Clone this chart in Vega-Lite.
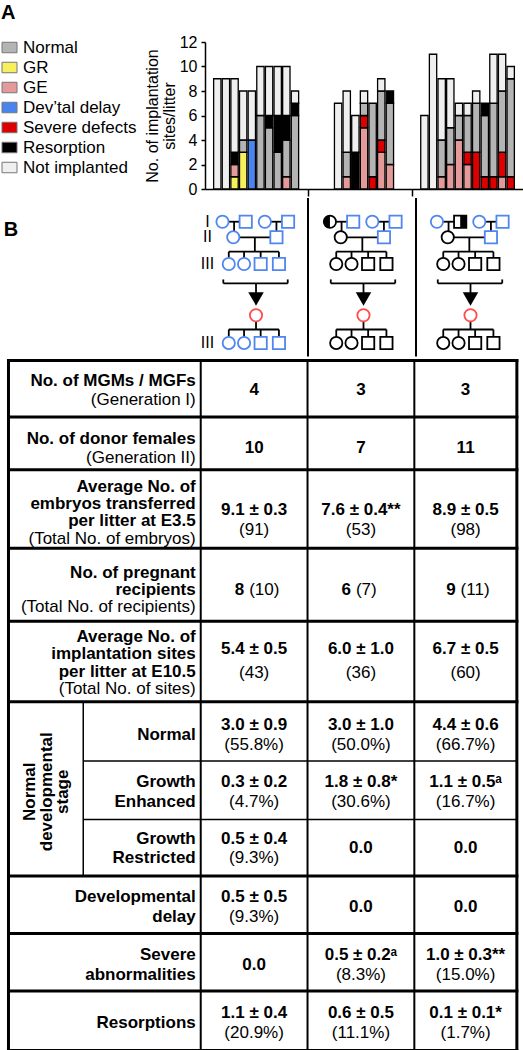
{
"$schema": "https://vega.github.io/schema/vega-lite/v6.json",
"padding": {"left": 1, "top": 3, "right": 0, "bottom": 0},
"spacing": 0,
"title": {"text": "A", "anchor": "start", "frame": "bounds", "fontSize": 20, "fontWeight": "bold", "font": "Liberation Sans", "color": "black", "offset": 11},
"config": {"view": {"stroke": null}, "concat": {"spacing": 0}, "font": "Liberation Sans", "text": {"font": "Liberation Sans", "color": "black"}},
"datasets": {
"litters": [
{"litter":"F1-1","outcome":"Not implanted","lo":0,"hi":9},
{"litter":"F1-2","outcome":"Not implanted","lo":0,"hi":9},
{"litter":"F1-3","outcome":"GR","lo":0,"hi":1},{"litter":"F1-3","outcome":"GE","lo":1,"hi":2},{"litter":"F1-3","outcome":"Resorption","lo":2,"hi":3},{"litter":"F1-3","outcome":"Not implanted","lo":3,"hi":9},
{"litter":"F1-4","outcome":"GR","lo":0,"hi":3},{"litter":"F1-4","outcome":"Normal","lo":3,"hi":4},{"litter":"F1-4","outcome":"Not implanted","lo":4,"hi":8},
{"litter":"F1-5","outcome":"Dev’tal delay","lo":0,"hi":4},{"litter":"F1-5","outcome":"Not implanted","lo":4,"hi":8},
{"litter":"F1-6","outcome":"Normal","lo":0,"hi":6},{"litter":"F1-6","outcome":"Not implanted","lo":6,"hi":10},
{"litter":"F1-7","outcome":"Normal","lo":0,"hi":5},{"litter":"F1-7","outcome":"Resorption","lo":5,"hi":6},{"litter":"F1-7","outcome":"Not implanted","lo":6,"hi":10},
{"litter":"F1-8","outcome":"Normal","lo":0,"hi":3},{"litter":"F1-8","outcome":"Resorption","lo":3,"hi":6},{"litter":"F1-8","outcome":"Not implanted","lo":6,"hi":10},
{"litter":"F1-9","outcome":"GE","lo":0,"hi":1},{"litter":"F1-9","outcome":"Normal","lo":1,"hi":4},{"litter":"F1-9","outcome":"Resorption","lo":4,"hi":6},{"litter":"F1-9","outcome":"Not implanted","lo":6,"hi":10},
{"litter":"F1-10","outcome":"Normal","lo":0,"hi":6},{"litter":"F1-10","outcome":"Resorption","lo":6,"hi":7},{"litter":"F1-10","outcome":"Not implanted","lo":7,"hi":8},
{"litter":"F2-1","outcome":"Not implanted","lo":0,"hi":7},
{"litter":"F2-2","outcome":"GE","lo":0,"hi":1},{"litter":"F2-2","outcome":"Normal","lo":1,"hi":3},{"litter":"F2-2","outcome":"Not implanted","lo":3,"hi":8},
{"litter":"F2-3","outcome":"Resorption","lo":0,"hi":3},{"litter":"F2-3","outcome":"Not implanted","lo":3,"hi":6},
{"litter":"F2-4","outcome":"GE","lo":0,"hi":5},{"litter":"F2-4","outcome":"Severe defects","lo":5,"hi":6},{"litter":"F2-4","outcome":"Normal","lo":6,"hi":7},{"litter":"F2-4","outcome":"Not implanted","lo":7,"hi":8},
{"litter":"F2-5","outcome":"Severe defects","lo":0,"hi":1},{"litter":"F2-5","outcome":"Normal","lo":1,"hi":7},
{"litter":"F2-6","outcome":"GE","lo":0,"hi":3},{"litter":"F2-6","outcome":"Severe defects","lo":3,"hi":4},{"litter":"F2-6","outcome":"Normal","lo":4,"hi":8},{"litter":"F2-6","outcome":"Not implanted","lo":8,"hi":9},
{"litter":"F2-7","outcome":"GE","lo":0,"hi":2},{"litter":"F2-7","outcome":"Normal","lo":2,"hi":7},{"litter":"F2-7","outcome":"Resorption","lo":7,"hi":8},
{"litter":"F3-1","outcome":"Not implanted","lo":0,"hi":6},
{"litter":"F3-2","outcome":"Not implanted","lo":0,"hi":11},
{"litter":"F3-3","outcome":"GE","lo":0,"hi":1},{"litter":"F3-3","outcome":"Normal","lo":1,"hi":4},{"litter":"F3-3","outcome":"Not implanted","lo":4,"hi":9},
{"litter":"F3-4","outcome":"GE","lo":0,"hi":2},{"litter":"F3-4","outcome":"Normal","lo":2,"hi":5},{"litter":"F3-4","outcome":"Not implanted","lo":5,"hi":9},
{"litter":"F3-5","outcome":"GE","lo":0,"hi":4},{"litter":"F3-5","outcome":"Normal","lo":4,"hi":6},{"litter":"F3-5","outcome":"Not implanted","lo":6,"hi":7},
{"litter":"F3-6","outcome":"GE","lo":0,"hi":2},{"litter":"F3-6","outcome":"Severe defects","lo":2,"hi":3},{"litter":"F3-6","outcome":"Normal","lo":3,"hi":6},{"litter":"F3-6","outcome":"Not implanted","lo":6,"hi":7},
{"litter":"F3-7","outcome":"Severe defects","lo":0,"hi":3},{"litter":"F3-7","outcome":"Normal","lo":3,"hi":7},{"litter":"F3-7","outcome":"Not implanted","lo":7,"hi":8},
{"litter":"F3-8","outcome":"Severe defects","lo":0,"hi":1},{"litter":"F3-8","outcome":"Normal","lo":1,"hi":6},{"litter":"F3-8","outcome":"Resorption","lo":6,"hi":7},
{"litter":"F3-9","outcome":"Severe defects","lo":0,"hi":1},{"litter":"F3-9","outcome":"Normal","lo":1,"hi":7},{"litter":"F3-9","outcome":"Not implanted","lo":7,"hi":11},
{"litter":"F3-10","outcome":"GE","lo":0,"hi":1},{"litter":"F3-10","outcome":"Severe defects","lo":1,"hi":3},{"litter":"F3-10","outcome":"Normal","lo":3,"hi":8},{"litter":"F3-10","outcome":"Not implanted","lo":8,"hi":11},
{"litter":"F3-11","outcome":"Severe defects","lo":0,"hi":1},{"litter":"F3-11","outcome":"Normal","lo":1,"hi":9},{"litter":"F3-11","outcome":"Not implanted","lo":9,"hi":10}
],
"people": [
{"fam":"1","gen":"I","pos":-1.9,"lvl":0,"sex":"F","status":"wt"},
{"fam":"1","gen":"I","pos":-0.5,"lvl":0,"sex":"M","status":"wt"},
{"fam":"1","gen":"I","pos":0.65,"lvl":0,"sex":"F","status":"wt"},
{"fam":"1","gen":"I","pos":2.05,"lvl":0,"sex":"M","status":"wt"},
{"fam":"1","gen":"II","pos":-1.25,"lvl":1,"sex":"F","status":"wt"},
{"fam":"1","gen":"II","pos":1.35,"lvl":1,"sex":"M","status":"wt"},
{"fam":"1","gen":"III","pos":-1.52,"lvl":2.71,"sex":"F","status":"wt"},
{"fam":"1","gen":"III","pos":-0.6,"lvl":2.71,"sex":"F","status":"wt"},
{"fam":"1","gen":"III","pos":0.4,"lvl":2.71,"sex":"M","status":"wt"},
{"fam":"1","gen":"III","pos":1.5,"lvl":2.71,"sex":"M","status":"wt"},
{"fam":"1","gen":"recipient","pos":0.12,"lvl":6.0,"sex":"F","status":"recipient"},
{"fam":"1","gen":"III offspring","pos":-1.52,"lvl":7.77,"sex":"F","status":"wt"},
{"fam":"1","gen":"III offspring","pos":-0.6,"lvl":7.77,"sex":"F","status":"wt"},
{"fam":"1","gen":"III offspring","pos":0.4,"lvl":7.77,"sex":"M","status":"wt"},
{"fam":"1","gen":"III offspring","pos":1.5,"lvl":7.77,"sex":"M","status":"wt"},
{"fam":"2","gen":"I","pos":-1.9,"lvl":0,"sex":"F","status":"carrier"},
{"fam":"2","gen":"I","pos":-0.5,"lvl":0,"sex":"M","status":"wt"},
{"fam":"2","gen":"I","pos":0.65,"lvl":0,"sex":"F","status":"wt"},
{"fam":"2","gen":"I","pos":2.05,"lvl":0,"sex":"M","status":"wt"},
{"fam":"2","gen":"II","pos":-1.25,"lvl":1,"sex":"F","status":"mut"},
{"fam":"2","gen":"II","pos":1.35,"lvl":1,"sex":"M","status":"wt"},
{"fam":"2","gen":"III","pos":-1.52,"lvl":2.71,"sex":"F","status":"mut"},
{"fam":"2","gen":"III","pos":-0.6,"lvl":2.71,"sex":"F","status":"mut"},
{"fam":"2","gen":"III","pos":0.4,"lvl":2.71,"sex":"M","status":"mut"},
{"fam":"2","gen":"III","pos":1.5,"lvl":2.71,"sex":"M","status":"mut"},
{"fam":"2","gen":"recipient","pos":0.12,"lvl":6.0,"sex":"F","status":"recipient"},
{"fam":"2","gen":"III offspring","pos":-1.52,"lvl":7.77,"sex":"F","status":"mut"},
{"fam":"2","gen":"III offspring","pos":-0.6,"lvl":7.77,"sex":"F","status":"mut"},
{"fam":"2","gen":"III offspring","pos":0.4,"lvl":7.77,"sex":"M","status":"mut"},
{"fam":"2","gen":"III offspring","pos":1.5,"lvl":7.77,"sex":"M","status":"mut"},
{"fam":"3","gen":"I","pos":-1.9,"lvl":0,"sex":"F","status":"wt"},
{"fam":"3","gen":"I","pos":-0.5,"lvl":0,"sex":"M","status":"carrier"},
{"fam":"3","gen":"I","pos":0.65,"lvl":0,"sex":"F","status":"wt"},
{"fam":"3","gen":"I","pos":2.05,"lvl":0,"sex":"M","status":"wt"},
{"fam":"3","gen":"II","pos":-1.25,"lvl":1,"sex":"F","status":"mut"},
{"fam":"3","gen":"II","pos":1.35,"lvl":1,"sex":"M","status":"wt"},
{"fam":"3","gen":"III","pos":-1.52,"lvl":2.71,"sex":"F","status":"mut"},
{"fam":"3","gen":"III","pos":-0.6,"lvl":2.71,"sex":"F","status":"mut"},
{"fam":"3","gen":"III","pos":0.4,"lvl":2.71,"sex":"M","status":"mut"},
{"fam":"3","gen":"III","pos":1.5,"lvl":2.71,"sex":"M","status":"mut"},
{"fam":"3","gen":"recipient","pos":0.12,"lvl":6.0,"sex":"F","status":"recipient"},
{"fam":"3","gen":"III offspring","pos":-1.52,"lvl":7.77,"sex":"F","status":"mut"},
{"fam":"3","gen":"III offspring","pos":-0.6,"lvl":7.77,"sex":"F","status":"mut"},
{"fam":"3","gen":"III offspring","pos":0.4,"lvl":7.77,"sex":"M","status":"mut"},
{"fam":"3","gen":"III offspring","pos":1.5,"lvl":7.77,"sex":"M","status":"mut"}
],
"pedlines": [
{"p1":-1.9,"p2":-0.5,"l1":0,"l2":0},
{"p1":-1.2,"p2":-1.2,"l1":0,"l2":1},
{"p1":0.65,"p2":2.05,"l1":0,"l2":0},
{"p1":1.35,"p2":1.35,"l1":0,"l2":1},
{"p1":-1.25,"p2":1.35,"l1":1,"l2":1},
{"p1":0.05,"p2":0.05,"l1":1,"l2":1.92},
{"p1":-1.52,"p2":1.5,"l1":1.92,"l2":1.92},
{"p1":-1.52,"p2":-1.52,"l1":1.92,"l2":2.71},
{"p1":-0.6,"p2":-0.6,"l1":1.92,"l2":2.71},
{"p1":0.4,"p2":0.4,"l1":1.92,"l2":2.71},
{"p1":1.5,"p2":1.5,"l1":1.92,"l2":2.71},
{"p1":-1.85,"p2":2.03,"l1":3.95,"l2":3.95},
{"p1":-1.85,"p2":-1.85,"l1":3.7,"l2":3.95},
{"p1":2.03,"p2":2.03,"l1":3.7,"l2":3.95},
{"p1":0.12,"p2":0.12,"l1":3.95,"l2":4.6},
{"p1":0.12,"p2":0.12,"l1":6.0,"l2":6.91},
{"p1":-1.52,"p2":1.5,"l1":6.91,"l2":6.91},
{"p1":-1.52,"p2":-1.52,"l1":6.91,"l2":7.77},
{"p1":-0.6,"p2":-0.6,"l1":6.91,"l2":7.77},
{"p1":0.4,"p2":0.4,"l1":6.91,"l2":7.77},
{"p1":1.5,"p2":1.5,"l1":6.91,"l2":7.77}
],
"gens": [{"gen":"I","lvl":0},{"gen":"II","lvl":1},{"gen":"III","lvl":2.71},{"gen":"III","lvl":7.77}],
"cells": [
{"ln":2.15,"c":9,"t":"No. of MGMs / MGFs","role":"name"},
{"ln":4.15,"c":9,"t":"(Generation I)","role":"note"},
{"ln":3.05,"c":11.5,"t":"4","role":"mean"},{"ln":3.05,"c":16.5,"t":"3","role":"mean"},{"ln":3.05,"c":21.4,"t":"3","role":"mean"},
{"ln":8.15,"c":9,"t":"No. of donor females","role":"name"},
{"ln":10.2,"c":9,"t":"(Generation II)","role":"note"},
{"ln":9.1,"c":11.5,"t":"10","role":"mean"},{"ln":9.1,"c":16.5,"t":"7","role":"mean"},{"ln":9.1,"c":21.4,"t":"11","role":"mean"},
{"ln":13.2,"c":9,"t":"Average No. of","role":"name"},
{"ln":15.0,"c":9,"t":"embryos transferred","role":"name"},
{"ln":16.8,"c":9,"t":"per litter at E3.5","role":"name"},
{"ln":18.6,"c":9,"t":"(Total No. of embryos)","role":"note"},
{"ln":15.6,"c":11.5,"t":"9.1 ± 0.3","role":"mean"},{"ln":17.7,"c":11.5,"t":"(91)","role":"total"},
{"ln":15.6,"c":16.5,"t":"7.6 ± 0.4**","role":"mean"},{"ln":17.7,"c":16.5,"t":"(53)","role":"total"},
{"ln":15.6,"c":21.4,"t":"8.9 ± 0.5","role":"mean"},{"ln":17.7,"c":21.4,"t":"(98)","role":"total"},
{"ln":22.15,"c":9,"t":"No. of pregnant","role":"name"},
{"ln":23.95,"c":9,"t":"recipients","role":"name"},
{"ln":25.75,"c":9,"t":"(Total No. of recipients)","role":"note"},
{"ln":23.95,"c":11.5,"t":"8","role":"n"},{"ln":23.95,"c":11.5,"t":"(10)","role":"nt"},
{"ln":23.95,"c":16.5,"t":"6","role":"n"},{"ln":23.95,"c":16.5,"t":"(7)","role":"nt"},
{"ln":23.95,"c":21.4,"t":"9","role":"n"},{"ln":23.95,"c":21.4,"t":"(11)","role":"nt"},
{"ln":28.87,"c":9,"t":"Average No. of","role":"name"},
{"ln":30.67,"c":9,"t":"implantation sites","role":"name"},
{"ln":32.47,"c":9,"t":"per litter at E10.5","role":"name"},
{"ln":34.27,"c":9,"t":"(Total No. of sites)","role":"note"},
{"ln":30.15,"c":11.5,"t":"5.4 ± 0.5","role":"mean"},{"ln":32.65,"c":11.5,"t":"(43)","role":"total"},
{"ln":30.15,"c":16.5,"t":"6.0 ± 1.0","role":"mean"},{"ln":32.65,"c":16.5,"t":"(36)","role":"total"},
{"ln":30.15,"c":21.4,"t":"6.7 ± 0.5","role":"mean"},{"ln":32.65,"c":21.4,"t":"(60)","role":"total"},
{"ln":39.1,"c":9,"t":"Normal","role":"name"},
{"ln":38.05,"c":11.5,"t":"3.0 ± 0.9","role":"mean"},{"ln":40.15,"c":11.5,"t":"(55.8%)","role":"total"},
{"ln":38.05,"c":16.5,"t":"3.0 ± 1.0","role":"mean"},{"ln":40.15,"c":16.5,"t":"(50.0%)","role":"total"},
{"ln":38.05,"c":21.4,"t":"4.4 ± 0.6","role":"mean"},{"ln":40.15,"c":21.4,"t":"(66.7%)","role":"total"},
{"ln":43.95,"c":9,"t":"Growth","role":"name"},
{"ln":46.05,"c":9,"t":"Enhanced","role":"name"},
{"ln":43.95,"c":11.5,"t":"0.3 ± 0.2","role":"mean"},{"ln":46.05,"c":11.5,"t":"(4.7%)","role":"total"},
{"ln":43.95,"c":16.5,"t":"1.8 ± 0.8*","role":"mean"},{"ln":46.05,"c":16.5,"t":"(30.6%)","role":"total"},
{"ln":43.95,"c":21.4,"t":"1.1 ± 0.5ᵃ","role":"mean"},{"ln":46.05,"c":21.4,"t":"(16.7%)","role":"total"},
{"ln":49.9,"c":9,"t":"Growth","role":"name"},
{"ln":51.95,"c":9,"t":"Restricted","role":"name"},
{"ln":49.9,"c":11.5,"t":"0.5 ± 0.4","role":"mean"},{"ln":51.95,"c":11.5,"t":"(9.3%)","role":"total"},
{"ln":50.9,"c":16.5,"t":"0.0","role":"mean"},{"ln":50.9,"c":21.4,"t":"0.0","role":"mean"},
{"ln":55.95,"c":9,"t":"Developmental","role":"name"},
{"ln":58.05,"c":9,"t":"delay","role":"name"},
{"ln":55.95,"c":11.5,"t":"0.5 ± 0.5","role":"mean"},{"ln":58.05,"c":11.5,"t":"(9.3%)","role":"total"},
{"ln":57.0,"c":16.5,"t":"0.0","role":"mean"},{"ln":57.0,"c":21.4,"t":"0.0","role":"mean"},
{"ln":62.0,"c":9,"t":"Severe","role":"name"},
{"ln":64.1,"c":9,"t":"abnormalities","role":"name"},
{"ln":63.05,"c":11.5,"t":"0.0","role":"mean"},
{"ln":62.0,"c":16.5,"t":"0.5 ± 0.2ᵃ","role":"mean"},{"ln":64.1,"c":16.5,"t":"(8.3%)","role":"total"},
{"ln":62.0,"c":21.4,"t":"1.0 ± 0.3**","role":"mean"},{"ln":64.1,"c":21.4,"t":"(15.0%)","role":"total"},
{"ln":69.15,"c":9,"t":"Resorptions","role":"name"},
{"ln":68.1,"c":11.5,"t":"1.1 ± 0.4","role":"mean"},{"ln":70.2,"c":11.5,"t":"(20.9%)","role":"total"},
{"ln":68.1,"c":16.5,"t":"0.6 ± 0.5","role":"mean"},{"ln":70.2,"c":16.5,"t":"(11.1%)","role":"total"},
{"ln":68.1,"c":21.4,"t":"0.1 ± 0.1*","role":"mean"},{"ln":70.2,"c":21.4,"t":"(1.7%)","role":"total"},
{"ln":45.0,"c":1.0,"t":"Normal","role":"group"},
{"ln":45.0,"c":1.8,"t":"developmental","role":"group"},
{"ln":45.0,"c":2.55,"t":"stage","role":"group"}
],
"hgrid": [
{"kind":"major","ln":0},{"kind":"major","ln":5.9},{"kind":"major","ln":11.4},{"kind":"major","ln":19.6},{"kind":"major","ln":27.2},{"kind":"major","ln":35.6},{"kind":"major","ln":53.8},{"kind":"major","ln":59.8},{"kind":"major","ln":65.8},{"kind":"major","ln":72},
{"kind":"minor","ln":41.8},{"kind":"minor","ln":47.9}
],
"vgrid": [
{"kind":"outer","c":0},{"kind":"outer","c":23.8},{"kind":"inner","c":9},{"kind":"inner","c":14},{"kind":"inner","c":19}
]
},
"vconcat": [
{
"width": 318, "height": 147,
"data": {"name": "litters"},
"mark": {"type": "bar", "stroke": "black", "strokeWidth": 1.3},
"encoding": {
"x": {"field": "litter", "type": "nominal",
 "scale": {"domain": ["F1-1","F1-2","F1-3","F1-4","F1-5","F1-6","F1-7","F1-8","F1-9","F1-10","gap1","gap2","gap3","gap4","F2-1","F2-2","F2-3","F2-4","F2-5","F2-6","F2-7","gap5","gap6","gap7","F3-1","F3-2","F3-3","F3-4","F3-5","F3-6","F3-7","F3-8","F3-9","F3-10","F3-11"], "paddingInner": 0.15, "paddingOuter": 1.0},
 "axis": {"values": ["gap2","gap7"], "labels": false, "title": null, "tickSize": 7, "tickWidth": 1.5, "domainWidth": 1.5, "domainColor": "black", "tickColor": "black", "bandPosition": 0, "grid": false}},
"y": {"field": "lo", "type": "quantitative", "scale": {"domain": [0, 12], "nice": false},
 "axis": {"values": [0,2,4,6,8,10,12], "title": ["No. of implantation","sites/litter"], "titleFontSize": 16, "titleFontWeight": "normal", "titleFont": "Liberation Sans", "titleColor": "black", "titlePadding": 2, "titleLineHeight": 17, "labelFontSize": 16, "labelFont": "Liberation Sans", "labelColor": "black", "labelPadding": 4, "tickSize": 4, "tickWidth": 1.5, "domainWidth": 1.5, "domainColor": "black", "tickColor": "black", "grid": false}},
"y2": {"field": "hi"},
"color": {"field": "outcome", "type": "nominal",
 "scale": {"domain": ["Normal","GR","GE","Dev’tal delay","Severe defects","Resorption","Not implanted"], "range": ["#b4b4b4","#f7ef5c","#e59a9a","#4a84ee","#dc0000","#000000","#efefef"]},
 "legend": {"orient": "none", "legendX": -204, "legendY": -3, "direction": "vertical", "title": null, "padding": 0, "symbolType": "M-1,-0.7H1V0.7H-1Z", "symbolSize": 225, "symbolStrokeColor": "#777777", "symbolStrokeWidth": 1, "labelFont": "Liberation Sans", "labelFontSize": 17, "labelColor": "black", "labelOffset": 5, "rowPadding": 2, "labelLimit": 0}}
}
},
{
"hconcat": [
{
"width": 102, "height": 158.5,
"layer": [
{"data": {"name": "pedlines"}, "mark": {"type": "rule", "color": "black", "strokeWidth": 1.8},
 "encoding": {"x": {"field": "p1", "type": "quantitative", "scale": {"domain": [-2.952, 3.19], "nice": false, "zero": false}, "axis": null}, "x2": {"field": "p2"},
  "y": {"field": "l1", "type": "quantitative", "scale": {"domain": [-1.52, 8.64], "nice": false, "reverse": true}, "axis": null}, "y2": {"field": "l2"}}},
{"data": {"name": "people"}, "transform": [{"filter": "datum.fam === '1'"}],
 "mark": {"type": "point", "filled": true, "fill": "white", "size": 150, "strokeWidth": 1.8, "opacity": 1},
 "encoding": {"x": {"field": "pos", "type": "quantitative", "scale": {"domain": [-2.952, 3.19], "nice": false, "zero": false}, "axis": null},
  "y": {"field": "lvl", "type": "quantitative", "scale": {"domain": [-1.52, 8.64], "nice": false, "reverse": true}, "axis": null},
  "shape": {"field": "sex", "type": "nominal", "scale": {"domain": ["F","M"], "range": ["circle","square"]}, "legend": null},
  "stroke": {"field": "status", "type": "nominal", "scale": {"domain": ["wt","mut","carrier","recipient"], "range": ["#4f86ef","#000000","#000000","#ff4d4d"]}, "legend": null}}},
{"data": {"values": [{"part": "arrowhead"}]},
 "mark": {"type": "point", "shape": "triangle-down", "filled": true, "color": "black", "size": 240, "opacity": 1},
 "encoding": {"x": {"datum": 0.12, "type": "quantitative", "scale": {"domain": [-2.952, 3.19], "nice": false, "zero": false}, "axis": null},
  "y": {"datum": 4.95, "type": "quantitative", "scale": {"domain": [-1.52, 8.64], "nice": false, "reverse": true}, "axis": null}}},
{"data": {"name": "gens"},
 "mark": {"type": "text", "fontSize": 16, "font": "Liberation Sans", "color": "black", "baseline": "middle", "align": "center"},
 "encoding": {"x": {"datum": -2.8, "type": "quantitative", "scale": {"domain": [-2.952, 3.19], "nice": false, "zero": false}, "axis": null},
  "y": {"field": "lvl", "type": "quantitative", "scale": {"domain": [-1.52, 8.64], "nice": false, "reverse": true}, "axis": null},
  "text": {"field": "gen"}}},
{"data": {"values": [{"panel": "B"}]},
 "mark": {"type": "text", "fontSize": 20, "fontWeight": "bold", "font": "Liberation Sans", "color": "black", "baseline": "middle", "align": "center"},
 "encoding": {"x": {"datum": -14.64, "type": "quantitative", "scale": {"domain": [-2.952, 3.19], "nice": false, "zero": false}, "axis": null},
  "y": {"datum": 0.5, "type": "quantitative", "scale": {"domain": [-1.52, 8.64], "nice": false, "reverse": true}, "axis": null},
  "text": {"field": "panel"}}}
]
},
{
"width": 107, "height": 158.5,
"resolve": {"scale": {"shape": "independent"}},
"layer": [
{"data": {"values": [{"part": "divider"}]}, "mark": {"type": "rule", "color": "black", "strokeWidth": 2},
 "encoding": {"x": {"datum": -3.22, "type": "quantitative", "scale": {"domain": [-3.22, 3.22], "nice": false}, "axis": null}}},
{"data": {"name": "pedlines"}, "mark": {"type": "rule", "color": "black", "strokeWidth": 1.8},
 "encoding": {"x": {"field": "p1", "type": "quantitative", "scale": {"domain": [-3.22, 3.22], "nice": false}, "axis": null}, "x2": {"field": "p2"},
  "y": {"field": "l1", "type": "quantitative", "scale": {"domain": [-1.52, 8.64], "nice": false, "reverse": true}, "axis": null}, "y2": {"field": "l2"}}},
{"data": {"name": "people"}, "transform": [{"filter": "datum.fam === '2'"}],
 "mark": {"type": "point", "filled": true, "fill": "white", "size": 150, "strokeWidth": 1.8, "opacity": 1},
 "encoding": {"x": {"field": "pos", "type": "quantitative", "scale": {"domain": [-3.22, 3.22], "nice": false}, "axis": null},
  "y": {"field": "lvl", "type": "quantitative", "scale": {"domain": [-1.52, 8.64], "nice": false, "reverse": true}, "axis": null},
  "shape": {"field": "sex", "type": "nominal", "scale": {"domain": ["F","M"], "range": ["circle","square"]}, "legend": null},
  "stroke": {"field": "status", "type": "nominal", "scale": {"domain": ["wt","mut","carrier","recipient"], "range": ["#4f86ef","#000000","#000000","#ff4d4d"]}, "legend": null}}},
{"data": {"name": "people"}, "transform": [{"filter": "datum.fam === '2' && datum.status === 'carrier'"}],
 "mark": {"type": "point", "filled": true, "color": "black", "size": 150, "strokeWidth": 0, "opacity": 1},
 "encoding": {"x": {"field": "pos", "type": "quantitative", "scale": {"domain": [-3.22, 3.22], "nice": false}, "axis": null},
  "y": {"field": "lvl", "type": "quantitative", "scale": {"domain": [-1.52, 8.64], "nice": false, "reverse": true}, "axis": null},
  "shape": {"field": "sex", "type": "nominal", "scale": {"domain": ["F","M"], "range": ["M0,-1A1,1,0,0,0,0,1Z","M0,-1H1V1H0Z"]}, "legend": null}}},
{"data": {"values": [{"part": "arrowhead"}]},
 "mark": {"type": "point", "shape": "triangle-down", "filled": true, "color": "black", "size": 240, "opacity": 1},
 "encoding": {"x": {"datum": 0.12, "type": "quantitative", "scale": {"domain": [-3.22, 3.22], "nice": false}, "axis": null},
  "y": {"datum": 4.95, "type": "quantitative", "scale": {"domain": [-1.52, 8.64], "nice": false, "reverse": true}, "axis": null}}}
]
},
{
"width": 105, "height": 158.5,
"resolve": {"scale": {"shape": "independent"}},
"layer": [
{"data": {"values": [{"part": "divider"}]}, "mark": {"type": "rule", "color": "black", "strokeWidth": 2},
 "encoding": {"x": {"datum": -3.16, "type": "quantitative", "scale": {"domain": [-3.16, 3.16], "nice": false}, "axis": null}}},
{"data": {"name": "pedlines"}, "mark": {"type": "rule", "color": "black", "strokeWidth": 1.8},
 "encoding": {"x": {"field": "p1", "type": "quantitative", "scale": {"domain": [-3.16, 3.16], "nice": false}, "axis": null}, "x2": {"field": "p2"},
  "y": {"field": "l1", "type": "quantitative", "scale": {"domain": [-1.52, 8.64], "nice": false, "reverse": true}, "axis": null}, "y2": {"field": "l2"}}},
{"data": {"name": "people"}, "transform": [{"filter": "datum.fam === '3'"}],
 "mark": {"type": "point", "filled": true, "fill": "white", "size": 150, "strokeWidth": 1.8, "opacity": 1},
 "encoding": {"x": {"field": "pos", "type": "quantitative", "scale": {"domain": [-3.16, 3.16], "nice": false}, "axis": null},
  "y": {"field": "lvl", "type": "quantitative", "scale": {"domain": [-1.52, 8.64], "nice": false, "reverse": true}, "axis": null},
  "shape": {"field": "sex", "type": "nominal", "scale": {"domain": ["F","M"], "range": ["circle","square"]}, "legend": null},
  "stroke": {"field": "status", "type": "nominal", "scale": {"domain": ["wt","mut","carrier","recipient"], "range": ["#4f86ef","#000000","#000000","#ff4d4d"]}, "legend": null}}},
{"data": {"name": "people"}, "transform": [{"filter": "datum.fam === '3' && datum.status === 'carrier'"}],
 "mark": {"type": "point", "filled": true, "color": "black", "size": 150, "strokeWidth": 0, "opacity": 1},
 "encoding": {"x": {"field": "pos", "type": "quantitative", "scale": {"domain": [-3.16, 3.16], "nice": false}, "axis": null},
  "y": {"field": "lvl", "type": "quantitative", "scale": {"domain": [-1.52, 8.64], "nice": false, "reverse": true}, "axis": null},
  "shape": {"field": "sex", "type": "nominal", "scale": {"domain": ["F","M"], "range": ["M0,-1A1,1,0,0,0,0,1Z","M0,-1H1V1H0Z"]}, "legend": null}}},
{"data": {"values": [{"part": "arrowhead"}]},
 "mark": {"type": "point", "shape": "triangle-down", "filled": true, "color": "black", "size": 240, "opacity": 1},
 "encoding": {"x": {"datum": 0.12, "type": "quantitative", "scale": {"domain": [-3.16, 3.16], "nice": false}, "axis": null},
  "y": {"datum": 4.95, "type": "quantitative", "scale": {"domain": [-1.52, 8.64], "nice": false, "reverse": true}, "axis": null}}}
]
}
]
},
{
"width": 314, "height": 690.5,
"layer": [
{"data": {"name": "hgrid"}, "transform": [{"filter": "datum.kind === 'major'"}],
 "mark": {"type": "rule", "color": "black", "strokeWidth": 3, "strokeCap": "square"},
 "encoding": {"x": {"datum": 0, "type": "quantitative", "scale": {"domain": [9.2, 23.9], "nice": false, "zero": false}, "axis": null}, "x2": {"datum": 23.8},
  "y": {"field": "ln", "type": "quantitative", "scale": {"domain": [-0.05, 72.0], "nice": false, "reverse": true}, "axis": null}}},
{"data": {"name": "hgrid"}, "transform": [{"filter": "datum.kind === 'minor'"}],
 "mark": {"type": "rule", "color": "black", "strokeWidth": 1.5},
 "encoding": {"x": {"datum": 3.5, "type": "quantitative", "scale": {"domain": [9.2, 23.9], "nice": false, "zero": false}, "axis": null}, "x2": {"datum": 23.8},
  "y": {"field": "ln", "type": "quantitative", "scale": {"domain": [-0.05, 72.0], "nice": false, "reverse": true}, "axis": null}}},
{"data": {"name": "vgrid"}, "transform": [{"filter": "datum.kind === 'outer'"}],
 "mark": {"type": "rule", "color": "black", "strokeWidth": 3, "strokeCap": "square"},
 "encoding": {"x": {"field": "c", "type": "quantitative", "scale": {"domain": [9.2, 23.9], "nice": false, "zero": false}, "axis": null},
  "y": {"datum": 0, "type": "quantitative", "scale": {"domain": [-0.05, 72.0], "nice": false, "reverse": true}, "axis": null}, "y2": {"datum": 72}}},
{"data": {"name": "vgrid"}, "transform": [{"filter": "datum.kind === 'inner'"}],
 "mark": {"type": "rule", "color": "black", "strokeWidth": 2},
 "encoding": {"x": {"field": "c", "type": "quantitative", "scale": {"domain": [9.2, 23.9], "nice": false, "zero": false}, "axis": null},
  "y": {"datum": 0, "type": "quantitative", "scale": {"domain": [-0.05, 72.0], "nice": false, "reverse": true}, "axis": null}, "y2": {"datum": 72}}},
{"data": {"values": [{"part": "subcolumn"}]},
 "mark": {"type": "rule", "color": "black", "strokeWidth": 1.5},
 "encoding": {"x": {"datum": 3.5, "type": "quantitative", "scale": {"domain": [9.2, 23.9], "nice": false, "zero": false}, "axis": null},
  "y": {"datum": 35.6, "type": "quantitative", "scale": {"domain": [-0.05, 72.0], "nice": false, "reverse": true}, "axis": null}, "y2": {"datum": 53.8}}},
{"data": {"name": "cells"}, "transform": [{"filter": "datum.role === 'name'"}],
 "mark": {"type": "text", "align": "right", "dx": -5, "baseline": "middle", "fontSize": 17, "fontWeight": "bold", "font": "Liberation Sans", "color": "black"},
 "encoding": {"x": {"field": "c", "type": "quantitative", "scale": {"domain": [9.2, 23.9], "nice": false, "zero": false}, "axis": null},
  "y": {"field": "ln", "type": "quantitative", "scale": {"domain": [-0.05, 72.0], "nice": false, "reverse": true}, "axis": null}, "text": {"field": "t"}}},
{"data": {"name": "cells"}, "transform": [{"filter": "datum.role === 'note'"}],
 "mark": {"type": "text", "align": "right", "dx": -5, "baseline": "middle", "fontSize": 17, "font": "Liberation Sans", "color": "black"},
 "encoding": {"x": {"field": "c", "type": "quantitative", "scale": {"domain": [9.2, 23.9], "nice": false, "zero": false}, "axis": null},
  "y": {"field": "ln", "type": "quantitative", "scale": {"domain": [-0.05, 72.0], "nice": false, "reverse": true}, "axis": null}, "text": {"field": "t"}}},
{"data": {"name": "cells"}, "transform": [{"filter": "datum.role === 'mean'"}],
 "mark": {"type": "text", "align": "center", "baseline": "middle", "fontSize": 17, "fontWeight": "bold", "font": "Liberation Sans", "color": "black"},
 "encoding": {"x": {"field": "c", "type": "quantitative", "scale": {"domain": [9.2, 23.9], "nice": false, "zero": false}, "axis": null},
  "y": {"field": "ln", "type": "quantitative", "scale": {"domain": [-0.05, 72.0], "nice": false, "reverse": true}, "axis": null}, "text": {"field": "t"}}},
{"data": {"name": "cells"}, "transform": [{"filter": "datum.role === 'total'"}],
 "mark": {"type": "text", "align": "center", "baseline": "middle", "fontSize": 17, "font": "Liberation Sans", "color": "black"},
 "encoding": {"x": {"field": "c", "type": "quantitative", "scale": {"domain": [9.2, 23.9], "nice": false, "zero": false}, "axis": null},
  "y": {"field": "ln", "type": "quantitative", "scale": {"domain": [-0.05, 72.0], "nice": false, "reverse": true}, "axis": null}, "text": {"field": "t"}}},
{"data": {"name": "cells"}, "transform": [{"filter": "datum.role === 'n'"}],
 "mark": {"type": "text", "align": "right", "dx": -10, "baseline": "middle", "fontSize": 17, "fontWeight": "bold", "font": "Liberation Sans", "color": "black"},
 "encoding": {"x": {"field": "c", "type": "quantitative", "scale": {"domain": [9.2, 23.9], "nice": false, "zero": false}, "axis": null},
  "y": {"field": "ln", "type": "quantitative", "scale": {"domain": [-0.05, 72.0], "nice": false, "reverse": true}, "axis": null}, "text": {"field": "t"}}},
{"data": {"name": "cells"}, "transform": [{"filter": "datum.role === 'nt'"}],
 "mark": {"type": "text", "align": "left", "dx": -5, "baseline": "middle", "fontSize": 17, "font": "Liberation Sans", "color": "black"},
 "encoding": {"x": {"field": "c", "type": "quantitative", "scale": {"domain": [9.2, 23.9], "nice": false, "zero": false}, "axis": null},
  "y": {"field": "ln", "type": "quantitative", "scale": {"domain": [-0.05, 72.0], "nice": false, "reverse": true}, "axis": null}, "text": {"field": "t"}}},
{"data": {"name": "cells"}, "transform": [{"filter": "datum.role === 'group'"}],
 "mark": {"type": "text", "align": "center", "baseline": "middle", "angle": 270, "fontSize": 17, "fontWeight": "bold", "font": "Liberation Sans", "color": "black"},
 "encoding": {"x": {"field": "c", "type": "quantitative", "scale": {"domain": [9.2, 23.9], "nice": false, "zero": false}, "axis": null},
  "y": {"field": "ln", "type": "quantitative", "scale": {"domain": [-0.05, 72.0], "nice": false, "reverse": true}, "axis": null}, "text": {"field": "t"}}}
]
}
]
}
